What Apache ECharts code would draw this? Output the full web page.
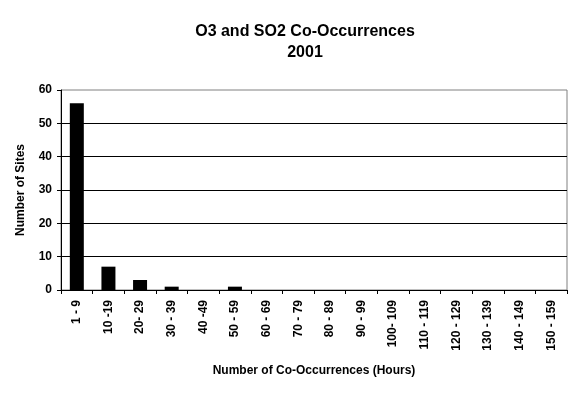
<!DOCTYPE html>
<html>
<head>
<meta charset="utf-8">
<script src="https://cdn.jsdelivr.net/npm/echarts@6/dist/echarts.min.js"></script>
<style>
html,body{margin:0;padding:0;background:#fff;}
#chart{width:576px;height:394px;}
</style>
</head>
<body>
<div id="chart"></div>
<script>
var categories = ['1 - 9','10 -19','20- 29','30 - 39','40 -49','50 - 59','60 - 69','70 - 79','80 - 89','90 - 99','100- 109','110 - 119','120 - 129','130 - 139','140 - 149','150 - 159'];
var siteCounts = [56, 7, 3, 1, 0, 1, 0, 0, 0, 0, 0, 0, 0, 0, 0, 0];
var titleLines = ['O3 and SO2 Co-Occurrences', '2001'];
var yAxisName = 'Number of Sites';
var xAxisName = 'Number of Co-Occurrences (Hours)';

var font = 'Liberation Sans, Arial, sans-serif';
var chart = echarts.init(document.getElementById('chart'), null, {renderer: 'canvas'});
chart.setOption({
  animation: false,
  backgroundColor: '#fff',
  title: {
    text: titleLines.join('\n'),
    left: 300,
    top: 16,
    textAlign: 'center',
    textStyle: {fontFamily: font, fontWeight: 'bold', fontSize: 16, color: '#000', lineHeight: 21}
  },
  grid: {
    left: 61, right: 9, top: 90, bottom: 104,
    show: true, borderColor: '#808080', borderWidth: 1, backgroundColor: 'transparent'
  },
  xAxis: {
    type: 'category',
    data: categories,
    boundaryGap: true,
    axisLine: {lineStyle: {color: '#000', width: 1}},
    axisTick: {show: true, alignWithLabel: false, length: 4, inside: false, lineStyle: {color: '#000'}},
    axisLabel: {rotate: 90, interval: 0, margin: 10, fontFamily: font, fontWeight: 'bold', fontSize: 12, color: '#000'},
    name: xAxisName,
    nameLocation: 'middle',
    nameGap: 75,
    nameTextStyle: {fontFamily: font, fontWeight: 'bold', fontSize: 12, color: '#000'}
  },
  yAxis: {
    type: 'value',
    min: 0, max: 60, interval: 10,
    axisLine: {show: true, lineStyle: {color: '#000', width: 1}},
    axisTick: {show: true, length: 4, lineStyle: {color: '#000'}},
    axisLabel: {margin: 9, fontFamily: font, fontWeight: 'bold', fontSize: 12, color: '#000'},
    splitLine: {show: true, showMinLine: false, showMaxLine: false, lineStyle: {color: '#000', width: 1}},
    name: yAxisName,
    nameLocation: 'middle',
    nameGap: 34,
    nameTextStyle: {fontFamily: font, fontWeight: 'bold', fontSize: 12, color: '#000'}
  },
  series: [{
    type: 'bar',
    data: siteCounts,
    barWidth: 14,
    itemStyle: {color: '#000'}
  }]
});
</script>
</body>
</html>
